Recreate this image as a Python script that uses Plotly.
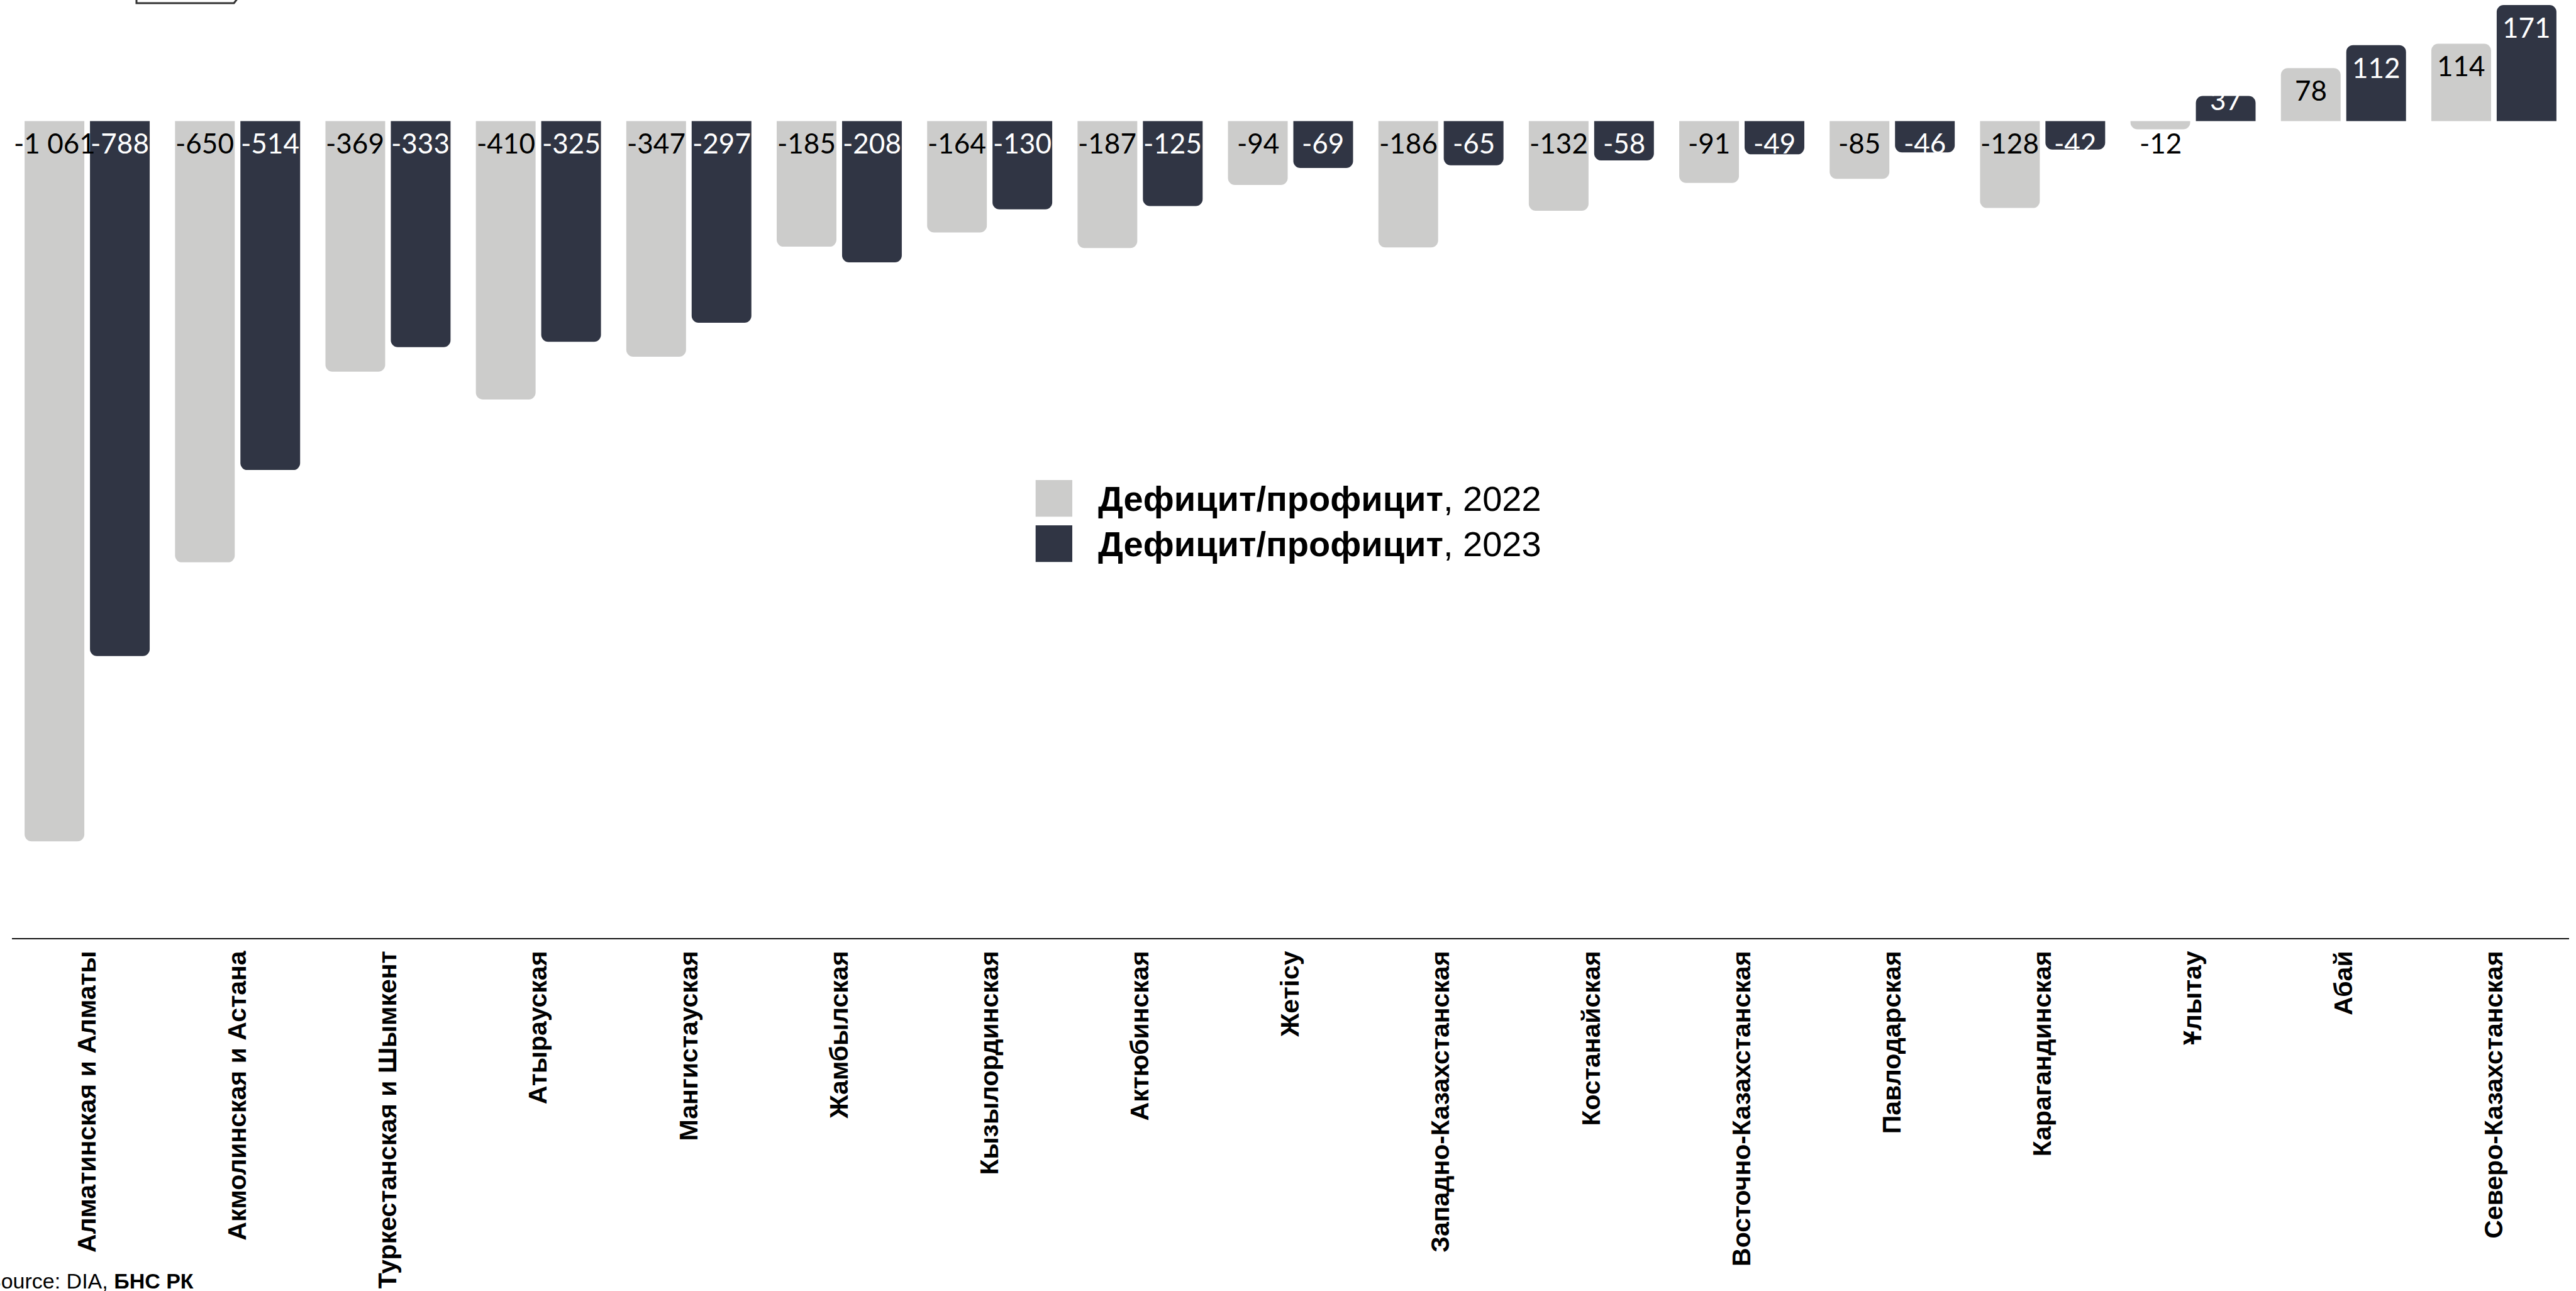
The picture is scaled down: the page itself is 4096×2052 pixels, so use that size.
import plotly.graph_objects as go

categories = ["Алматинская и Алматы", "Акмолинская и Астана", "Туркестанская и Шымкент",
              "Атырауская", "Мангистауская", "Жамбылская", "Кызылординская", "Актюбинская",
              "Жетісу", "Западно-Казахстанская", "Костанайская", "Восточно-Казахстанская",
              "Павлодарская", "Карагандинская", "Ұлытау", "Абай", "Северо-Казахстанская"]
v2022 = [-1061, -650, -369, -410, -347, -185, -164, -187, -94, -186, -132, -91, -85, -128, -12, 78, 114]
v2023 = [-788, -514, -333, -325, -297, -208, -130, -125, -69, -65, -58, -49, -46, -42, 37, 112, 171]
series_names = ["Дефицит/профицит, 2022", "Дефицит/профицит, 2023"]
source_text = "Source: DIA, <b>БНС РК</b>"

C22 = "#cccccb"
C23 = "#303544"
W, H = 4096, 2052
ML, MR, MT, MB = 19, 11, 0, 561
PW, PH = W - ML - MR, H - MT - MB
ZERO_PX = 192.5
PPU = 1.079
YTOP = ZERO_PX / PPU
YBOT = -(PH - ZERO_PX) / PPU

BAR_W = 0.397          # bar width in category units
HALF = 0.2173          # distance of each bar centre from the category centre
NUMFONT = "Lato, 'Open Sans', sans-serif"
NUMSIZE = 44
TXT_H = 34             # digit height in px
TOP_PAD = 20           # px from the bar top to the digit top

def fmt(v):
    return f"{v:,}".replace(",", " ")

def xp(px):
    return (px - ML) / PW

def yp(py):
    return (MT + PH - py) / PH

idx = list(range(len(categories)))
fig = go.Figure()
annotations = []

for vals, col, tcol, sign, nm in [(v2022, C22, "#000000", -1, series_names[0]),
                                  (v2023, C23, "#ffffff", 1, series_names[1])]:
    fig.add_trace(go.Bar(
        x=idx, y=vals, name=nm, width=BAR_W, offset=sign * HALF - BAR_W / 2,
        marker=dict(color=col, line=dict(width=0), cornerradius=11),
        showlegend=False, hoverinfo="skip",
    ))
    for i, v in zip(idx, vals):
        xc = i + sign * HALF
        if v < 0:
            annotations.append(dict(x=xc, y=0, xref="x", yref="y", text=fmt(v), showarrow=False,
                                    xanchor="center", yanchor="top", yshift=-6,
                                    font=dict(family=NUMFONT, size=NUMSIZE, color=tcol)))
        elif v * PPU >= TOP_PAD + TXT_H + 16:
            annotations.append(dict(x=xc, y=v, xref="x", yref="y", text=fmt(v), showarrow=False,
                                    xanchor="center", yanchor="top", yshift=-7,
                                    font=dict(family=NUMFONT, size=NUMSIZE, color=tcol)))
        else:
            annotations.append(dict(x=xc, y=0, xref="x", yref="y", text=fmt(v), showarrow=False,
                                    xanchor="center", yanchor="bottom", yshift=7,
                                    font=dict(family=NUMFONT, size=NUMSIZE, color=tcol)))

shapes = []
# legend (manual, large swatches)
for i, (nm, col) in enumerate(zip(series_names, [C22, C23])):
    top = 763 + i * 72
    shapes.append(dict(type="rect", xref="paper", yref="paper",
                       x0=xp(1646.7), x1=xp(1705), y0=yp(top), y1=yp(top + 58.3),
                       fillcolor=col, line=dict(width=0)))
    base, yr = nm.split(", ")
    annotations.append(dict(xref="paper", yref="paper", x=xp(1744), y=yp(top + 29.5),
                            xanchor="left", yanchor="middle", showarrow=False,
                            text=f"<b>{base}</b>, {yr}",
                            font=dict(family="Liberation Sans, Arial, sans-serif", size=56, color="#000000")))

# source
annotations.append(dict(xref="paper", yref="paper", x=xp(-23), y=yp(2036),
                        xanchor="left", yanchor="middle", showarrow=False,
                        text=source_text,
                        font=dict(family="Liberation Sans, Arial, sans-serif", size=34, color="#000000")))

# cropped frame at the top-left
shapes.append(dict(type="path", xref="paper", yref="paper",
                   path=f"M {xp(217)},{yp(-20)} L {xp(217)},{yp(5)} L {xp(372)},{yp(5)} L {xp(382)},{yp(-8)}",
                   line=dict(color="#333333", width=3)))

fig.update_layout(
    width=W, height=H,
    margin=dict(l=ML, r=MR, t=MT, b=MB, autoexpand=False),
    barmode="overlay",
    plot_bgcolor="white", paper_bgcolor="white",
    showlegend=False,
    shapes=shapes, annotations=annotations,
    xaxis=dict(range=[-0.5, len(categories) - 0.5], tickmode="array", tickvals=idx, ticktext=categories,
               showline=True, linecolor="#111111", linewidth=2, zeroline=False,
               showgrid=False, ticks="", tickangle=-90, ticklabelstandoff=2,
               tickfont=dict(family="Liberation Sans, Arial, sans-serif", size=41,
                             color="#000000", weight="bold")),
    yaxis=dict(range=[YBOT, YTOP], visible=False, showgrid=False, zeroline=False),
)

fig.write_html("out.html", config={"displayModeBar": False},
               post_script="document.body.style.margin='0';document.body.style.overflow='hidden';")
